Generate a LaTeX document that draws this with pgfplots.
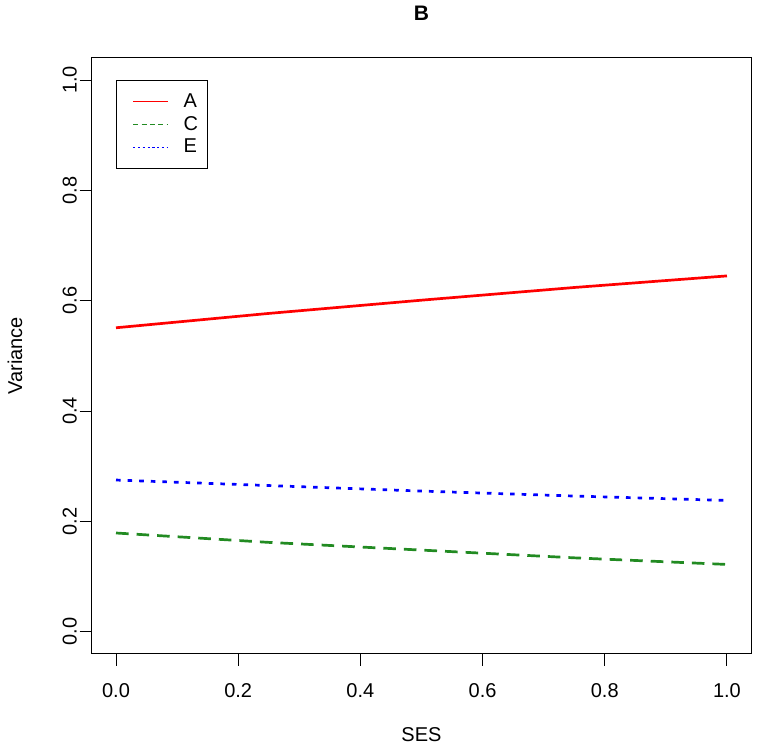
\documentclass[border=0pt]{standalone}
\usepackage{fontspec}
\setmainfont{Liberation Sans}
\usepackage{pgfplots}
\pgfplotsset{compat=1.18}
\definecolor{rgreen}{RGB}{34,139,34}
\definecolor{rblue}{RGB}{0,0,255}
\definecolor{rred}{RGB}{255,0,0}
\pgfplotstableread{
x a c e
0.00 0.551 0.179 0.275
0.25 0.577 0.162 0.265
0.50 0.601 0.148 0.255
0.75 0.624 0.134 0.246
1.00 0.645 0.122 0.238
}\vcdata
\begin{document}
\begin{tikzpicture}
\begin{axis}[
  at={(0,0)}, anchor=south west,
  scale only axis, width=330pt, height=298pt,
  xmin=-0.04, xmax=1.04, ymin=-0.04, ymax=1.04,
  xtick={0,0.2,0.4,0.6,0.8,1}, ytick={0,0.2,0.4,0.6,0.8,1},
  xtick pos=left, ytick pos=left,
  tick align=outside, major tick length=6pt,
  tick style={black, line width=0.5pt},
  axis line style={black, line width=0.5pt},
  /pgf/number format/assume math mode=true,
  /pgf/number format/.cd, fixed, fixed zerofill, precision=1, /pgfplots/.cd,
  ticklabel style={font=\fontsize{10}{12}\selectfont},
  xticklabel style={anchor=north, inner sep=0pt, yshift=-8.6pt},
  yticklabel style={rotate=90, anchor=south, inner sep=0pt, xshift=0pt, yshift=1.2pt},
  xlabel={SES}, ylabel={Variance},
  xlabel style={font=\fontsize{10}{12}\selectfont, at={(axis description cs:0.5,-0.1359)}, anchor=center},
  ylabel style={font=\fontsize{10}{12}\selectfont, at={(axis description cs:-0.1161,0.5)}, anchor=center},
  title={\bfseries B},
  title style={font=\fontsize{10.5}{12}\selectfont, at={(axis description cs:0.5,1.0542)}, anchor=center},
  legend cell align=left,
  legend style={at={(axis cs:0,1)}, anchor=north west, draw=black, line width=0.5pt,
    inner xsep=4.6pt, inner ysep=5pt, row sep=0pt, column sep=7.35pt,
    font=\fontsize{10}{12}\selectfont,
    nodes={inner sep=0pt, minimum height=11.4pt}},
  legend image code/.code={\path (0pt,0pt); \draw[#1] (3.25pt,0pt) -- (20.75pt,0pt);},
]
\addplot[rred, line width=1.35pt, forget plot] table[x=x, y=a] {\vcdata};
\addplot[rgreen, line width=1.35pt, dash pattern=on 6.3pt off 4pt, forget plot] table[x=x, y=c] {\vcdata};
\addplot[rblue, line width=1.35pt, dash pattern=on 2.3pt off 3.5pt, forget plot] table[x=x, y=e] {\vcdata};
\addlegendimage{draw=rred, line width=0.5pt}
\addlegendentry{A}
\addlegendimage{draw=rgreen, line width=0.55pt, dash pattern=on 2.5pt off 1.7pt}
\addlegendentry{C}
\addlegendimage{draw=rblue, line width=0.9pt, dash pattern=on 1.1pt off 1.3pt}
\addlegendentry{E}
\end{axis}
\pgfresetboundingbox
\path[use as bounding box] (-45.8pt,-45.2pt) rectangle (335.3pt,327pt);
\end{tikzpicture}
\end{document}
